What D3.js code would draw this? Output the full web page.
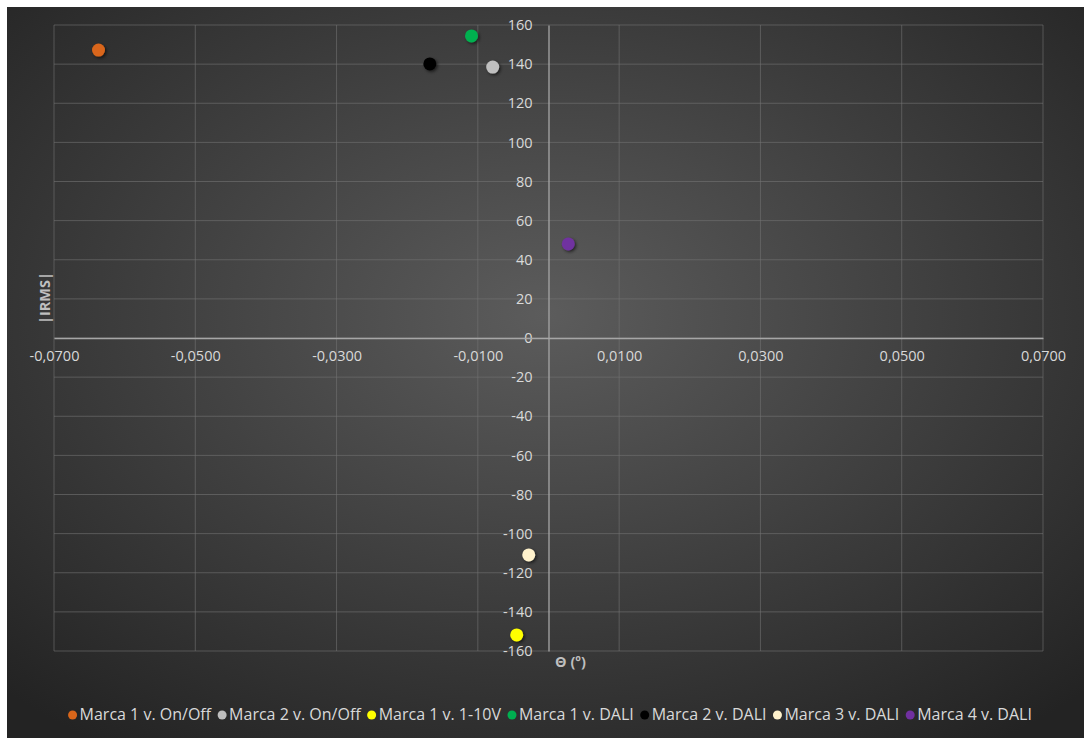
<!DOCTYPE html>
<html>
<head>
<meta charset="utf-8">
<script src="https://cdn.jsdelivr.net/npm/d3@7"></script>
<style>
  body { margin: 0; background: #fff; }
  text { font-family: "Open Sans", Lato, sans-serif; }
</style>
</head>
<body>
<script>
// series names, colours and values (theta, |IRMS|)
var series = ["Marca 1 v. On/Off", "Marca 2 v. On/Off", "Marca 1 v. 1-10V", "Marca 1 v. DALI",
              "Marca 2 v. DALI", "Marca 3 v. DALI", "Marca 4 v. DALI"];
var colors = ["#d9661a", "#bfbfbf", "#ffff00", "#00b050", "#000000", "#fff2cc", "#7030a0"];
var theta = [-0.0637, -0.0079, -0.0045, -0.0109, -0.0168, -0.0028, 0.0028];
var irms = [147.2, 138.5, -151.8, 154.4, 140.1, -110.9, 48.1];

var xTicks = [-0.07, -0.05, -0.03, -0.01, 0.01, 0.03, 0.05, 0.07];
var yTicks = d3.range(-160, 161, 20);

var W = 1084, H = 738;
var margin = {top: 25, right: 41, bottom: 87, left: 54};

var svg = d3.select("body").append("svg")
    .attr("width", W)
    .attr("height", H);

var defs = svg.append("defs");
var grad = defs.append("radialGradient")
    .attr("id", "bg")
    .attr("cx", "50%").attr("cy", "42%").attr("r", "72%");
grad.append("stop").attr("offset", "0%").attr("stop-color", "#5c5c5c");
grad.append("stop").attr("offset", "100%").attr("stop-color", "#232323");

var shadow = defs.append("filter").attr("id", "sh")
    .attr("x", "-50%").attr("y", "-50%").attr("width", "200%").attr("height", "200%");
shadow.append("feDropShadow")
    .attr("dx", 1.5).attr("dy", 1.5).attr("stdDeviation", 1.5)
    .attr("flood-color", "#000").attr("flood-opacity", 0.6);

svg.append("rect")
    .attr("x", 7).attr("y", 7)
    .attr("width", W - 7).attr("height", H - 7)
    .attr("fill", "url(#bg)");

var x = d3.scaleLinear().domain([-0.07, 0.07]).range([margin.left, W - margin.right]);
var y = d3.scaleLinear().domain([-160, 160]).range([H - margin.bottom, margin.top]);

var g = svg.append("g");

// grid lines
g.selectAll(".gx").data(xTicks).enter().append("line")
    .attr("x1", function(d) { return x(d); }).attr("x2", function(d) { return x(d); })
    .attr("y1", y(160)).attr("y2", y(-160))
    .attr("stroke", "#737373").attr("stroke-opacity", 0.6).attr("stroke-width", 1);
g.selectAll(".gy").data(yTicks).enter().append("line")
    .attr("x1", x(-0.07)).attr("x2", x(0.07))
    .attr("y1", function(d) { return y(d); }).attr("y2", function(d) { return y(d); })
    .attr("stroke", "#737373").attr("stroke-opacity", 0.6).attr("stroke-width", 1);

function fmtNum(s) { return s.replace(/\u2212/g, "-").replace(".", ","); }

// y axis at x = 0
var yAxis = svg.append("g")
    .attr("transform", "translate(" + x(0) + ",0)")
    .call(d3.axisLeft(y).tickValues(yTicks).tickSize(0).tickPadding(16)
        .tickFormat(function(d) { return fmtNum(d3.format("d")(d)); }));
yAxis.select(".domain").attr("stroke", "#a6a6a6").attr("stroke-width", 1.3);
yAxis.selectAll("text").attr("fill", "#d9d9d9").style("font-size", "14.5px");

// x axis at y = 0
var xAxis = svg.append("g")
    .attr("transform", "translate(0," + y(0) + ")")
    .call(d3.axisBottom(x).tickValues(xTicks).tickSize(0).tickPadding(13)
        .tickFormat(function(d) { return fmtNum(d3.format(".4f")(d)); }));
xAxis.select(".domain").attr("stroke", "#a6a6a6").attr("stroke-width", 1.3);
xAxis.selectAll("text").attr("fill", "#d9d9d9").style("font-size", "14.5px");

// axis titles
svg.append("text")
    .attr("transform", "translate(50," + 298 + ") rotate(-90)")
    .attr("text-anchor", "middle")
    .attr("fill", "#bfbfbf").style("font-size", "14.5px").style("font-weight", "bold")
    .text("|IRMS|");
svg.append("text")
    .attr("x", x(0) + 22).attr("y", 667)
    .attr("text-anchor", "middle")
    .attr("fill", "#bfbfbf").style("font-size", "14.5px").style("font-weight", "bold")
    .text("\u0398 (\u00ba)");

// points
svg.selectAll(".pt").data(series).enter().append("circle")
    .attr("cx", function(d, i) { return x(theta[i]); })
    .attr("cy", function(d, i) { return y(irms[i]); })
    .attr("r", 6.5)
    .attr("fill", function(d, i) { return colors[i]; })
    .attr("filter", "url(#sh)");

// legend
var leg = svg.append("g");
var items = leg.selectAll(".li").data(series).enter().append("g");
items.append("circle").attr("r", 4.5).attr("cy", -5)
    .attr("fill", function(d, i) { return colors[i]; });
items.append("text").attr("x", 7)
    .attr("fill", "#d9d9d9").style("font-size", "16px")
    .text(function(d) { return d; });
var pos = 0, offs = [];
items.each(function() {
  offs.push(pos);
  pos += 7 + d3.select(this).select("text").node().getComputedTextLength() + 11;
});
var total = pos - 11 + 4.5;
var start = 550 - total / 2 + 4.5;
items.attr("transform", function(d, i) { return "translate(" + (start + offs[i]) + ",720)"; });
</script>
</body>
</html>
